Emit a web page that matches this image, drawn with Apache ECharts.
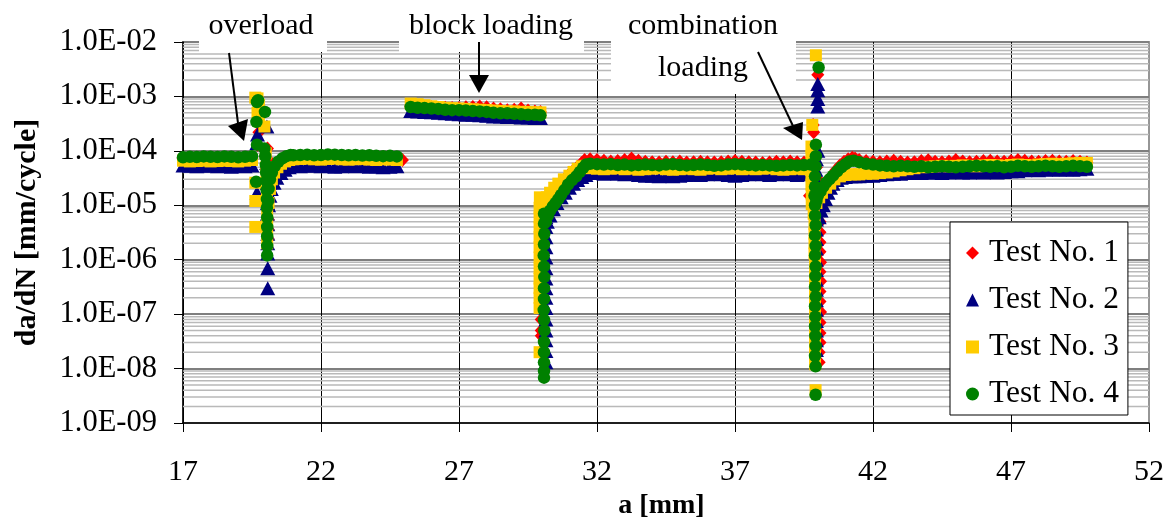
<!DOCTYPE html>
<html><head><meta charset="utf-8">
<script src="https://cdn.jsdelivr.net/npm/echarts@6/dist/echarts.min.js"></script>
<style>html,body{margin:0;padding:0;background:#fff}#chart{width:1168px;height:518px}</style>
</head><body><div id="chart"></div>
<script>
// ---------- shared crack-length grids (mm) for the steady sections ----------
const aPre   = [17.0,17.25,17.5,17.75,18.0,18.25,18.5,18.75,19.0,19.25,19.5];
const aPost  = [21.0,21.25,21.5,21.75,22.0,22.25,22.5,22.75,23.0,23.25,23.5,23.75,24.0,24.25,24.5,24.75];
const aBlock = [25.25,25.5,25.75,26.0,26.25,26.5,26.75,27.0,27.25,27.5,27.75,28.0,28.25,28.5,28.75,29.0,29.25,29.5,29.75,29.95];
const aMid   = [31.75,32.0,32.25,32.5,32.75,33.0,33.25,33.5,33.75,34.0,34.25,34.5,34.75,35.0,35.25,35.5,35.75,36.0,36.25,36.5,36.75,37.0,37.25,37.5,37.75,38.0,38.25,38.5,38.75,39.0,39.25,39.5,39.75];
const aEnd   = [41.5,41.75,42.0,42.25,42.5,42.75,43.0,43.25,43.5,43.75,44.0,44.25,44.5,44.75,45.0,45.25,45.5,45.75,46.0,46.25,46.5,46.75,47.0,47.25,47.5,47.75,48.0,48.25,48.5,48.75,49.0,49.25,49.5,49.75];

// ---------- Test No. 1 ----------
const test1Pre   = [7.3e-5,7.2e-5,7.4e-5,7.3e-5,7.1e-5,7.3e-5,7.4e-5,7.2e-5,7.3e-5,7.2e-5,7.5e-5];
const test1Post  = [7.6e-5,7.5e-5,7.7e-5,7.6e-5,7.4e-5,7.5e-5,7.6e-5,7.7e-5,7.5e-5,7.6e-5,7.4e-5,7.5e-5,7.6e-5,7.5e-5,7.3e-5,7.2e-5];
const test1Block = [6.6e-4,6.5e-4,6.4e-4,6.3e-4,6.2e-4,6.2e-4,6.1e-4,6.1e-4,6.3e-4,6.4e-4,6.5e-4,6.3e-4,6.0e-4,5.8e-4,5.6e-4,5.7e-4,6.0e-4,5.5e-4,5.3e-4,5.2e-4];
const test1Mid   = [7.0e-5,6.8e-5,6.6e-5,6.4e-5,6.5e-5,6.8e-5,7.2e-5,6.6e-5,6.3e-5,6.2e-5,6.1e-5,6.3e-5,6.2e-5,6.4e-5,6.1e-5,6.2e-5,6.3e-5,6.2e-5,6.1e-5,6.2e-5,6.4e-5,6.5e-5,6.3e-5,6.2e-5,6.1e-5,6.0e-5,6.1e-5,6.3e-5,6.2e-5,6.4e-5,6.2e-5,6.1e-5,6.2e-5];
const test1End   = [6.8e-5,6.5e-5,6.3e-5,6.2e-5,6.4e-5,6.6e-5,6.3e-5,6.1e-5,6.2e-5,6.5e-5,6.7e-5,6.3e-5,6.2e-5,6.4e-5,6.8e-5,6.4e-5,6.2e-5,6.3e-5,6.5e-5,6.6e-5,6.4e-5,6.3e-5,6.5e-5,6.8e-5,6.6e-5,6.4e-5,6.3e-5,6.5e-5,6.6e-5,6.4e-5,6.3e-5,6.5e-5,6.3e-5,6.1e-5];
const test1Overload = [[19.7,1.3e-4],[19.75,2.2e-4],[20.06,1.1e-4],[20.07,7e-5],[20.08,4.5e-5],[20.08,3e-5],[20.09,2e-5],[20.09,1.3e-5],[20.09,8.5e-6],[20.09,5.5e-6],[20.09,3.6e-6],[20.09,2.4e-6],[20.12,1.2e-5],[20.18,2e-5],[20.26,3e-5],[20.36,4e-5],[20.5,5.2e-5],[20.65,6.2e-5],[20.8,7e-5],[24.95,6.8e-5]];
const test1Drop = [[29.98,6e-6],[29.98,4e-6],[29.98,2.6e-6],[29.98,1.7e-6],[29.98,1.1e-6],[29.98,7e-7],[29.98,4.5e-7],[29.98,3e-7],[29.98,2e-7],[29.98,1.3e-7],[29.98,8e-8],[29.98,5e-8],[29.98,4e-8],[30.1,8e-6],[30.25,1.1e-5],[30.4,1.5e-5],[30.55,2e-5],[30.7,2.5e-5],[30.85,3.1e-5],[31.0,3.7e-5],[31.15,4.4e-5],[31.3,5.1e-5],[31.45,6e-5],[31.55,6.8e-5]];
const test1Combo = [[40.0,2.5e-3],[39.83,3e-4],[39.85,2.2e-4],[39.9,1.2e-4],[39.95,8e-5],[39.95,5e-5],[39.7,1.5e-5],[40.0,3e-5],[40.02,2e-5],[40.03,1.3e-5],[40.05,8e-6],[40.08,5e-6],[40.08,3.2e-6],[40.08,2.1e-6],[40.08,1.4e-6],[40.1,9e-7],[40.08,6e-7],[40.1,4e-7],[40.08,2.6e-7],[40.08,1.7e-7],[40.1,1.1e-7],[40.08,7e-8],[40.08,4.5e-8],[40.08,3e-8],[40.05,2e-8],[40.05,1.3e-8],[40.15,1.5e-5],[40.25,2e-5],[40.35,2.7e-5],[40.5,3.5e-5],[40.65,4.4e-5],[40.8,5.4e-5],[40.95,6.3e-5],[41.1,7e-5],[41.25,7.5e-5],[41.35,7.2e-5]];

// ---------- Test No. 2 ----------
const test2Pre   = [5.4e-5,5.3e-5,5.2e-5,5.3e-5,5.4e-5,5.2e-5,5.3e-5,5.1e-5,5.3e-5,5.2e-5,5.4e-5];
const test2Post  = [5.3e-5,5.2e-5,5.3e-5,5.4e-5,5.2e-5,5.3e-5,5.1e-5,5.2e-5,5.3e-5,5.2e-5,5.3e-5,5.1e-5,5.2e-5,5.0e-5,5.1e-5,5.2e-5];
const test2Block = [5.4e-4,5.3e-4,5.2e-4,5.1e-4,5.0e-4,4.9e-4,4.8e-4,4.7e-4,4.6e-4,4.6e-4,4.5e-4,4.4e-4,4.3e-4,4.3e-4,4.2e-4,4.2e-4,4.1e-4,4.1e-4,4.0e-4,4.0e-4];
const test2Mid   = [3.9e-5,3.9e-5,3.8e-5,3.9e-5,3.8e-5,3.7e-5,3.8e-5,3.6e-5,3.5e-5,3.5e-5,3.4e-5,3.5e-5,3.4e-5,3.5e-5,3.6e-5,3.7e-5,3.6e-5,3.7e-5,3.8e-5,3.7e-5,3.6e-5,3.5e-5,3.6e-5,3.7e-5,3.8e-5,3.7e-5,3.6e-5,3.7e-5,3.8e-5,3.7e-5,3.6e-5,3.7e-5,3.8e-5];
const test2End   = [3.4e-5,3.5e-5,3.5e-5,3.6e-5,3.7e-5,3.8e-5,3.8e-5,3.9e-5,4.0e-5,3.9e-5,4.0e-5,4.0e-5,3.9e-5,4.0e-5,4.1e-5,4.0e-5,4.0e-5,4.1e-5,4.0e-5,4.1e-5,4.0e-5,4.1e-5,4.2e-5,4.2e-5,4.4e-5,4.5e-5,4.4e-5,4.5e-5,4.6e-5,4.5e-5,4.6e-5,4.5e-5,4.6e-5,4.7e-5];
const test2Overload = [[19.68,1.4e-4],[19.7,2e-4],[20.04,2.8e-4],[19.68,1.7e-5],[20.03,6e-5],[20.05,4e-5],[20.05,2.6e-5],[20.06,1.7e-5],[20.06,1.1e-5],[20.06,7e-6],[20.07,4.5e-6],[20.07,3e-6],[20.07,2e-6],[20.07,1.3e-6],[20.07,7e-7],[20.07,3e-7],[20.1,1e-5],[20.15,1.5e-5],[20.2,2e-5],[20.3,2.6e-5],[20.4,3.2e-5],[20.55,3.9e-5],[20.7,4.5e-5],[20.85,5e-5]];
const test2Drop = [[30.15,6e-6],[30.15,4e-6],[30.15,2.6e-6],[30.15,1.7e-6],[30.15,1.1e-6],[30.15,7e-7],[30.15,4.5e-7],[30.15,3e-7],[30.15,2e-7],[30.15,1.3e-7],[30.15,8e-8],[30.15,5e-8],[30.15,3.3e-8],[30.15,2.1e-8],[30.15,1.3e-8],[30.2,5e-6],[30.3,6.5e-6],[30.42,8.5e-6],[30.55,1.1e-5],[30.7,1.4e-5],[30.85,1.7e-5],[31.0,2.1e-5],[31.15,2.5e-5],[31.3,2.9e-5],[31.45,3.3e-5],[31.6,3.6e-5]];
const test2Combo = [[40.0,1.7e-3],[40.0,1.3e-3],[40.0,9e-4],[40.0,6.5e-4],[40.0,1e-4],[39.95,7e-5],[39.93,4.5e-5],[39.93,3e-5],[39.93,2e-5],[39.93,1.3e-5],[39.95,8.5e-6],[39.95,5.5e-6],[39.95,3.6e-6],[39.95,2.4e-6],[39.95,1.6e-6],[39.95,1e-6],[39.95,6.5e-7],[39.95,4.3e-7],[39.95,2.8e-7],[39.95,1.8e-7],[39.95,1.2e-7],[39.95,7.5e-8],[39.95,5e-8],[39.95,3.3e-8],[39.95,2.2e-8],[40.05,6e-6],[40.12,8e-6],[40.2,1e-5],[40.28,1.3e-5],[40.37,1.7e-5],[40.46,2.1e-5],[40.55,2.5e-5],[40.7,2.9e-5],[40.85,3.2e-5],[41.0,3.3e-5],[41.2,3.4e-5],[41.35,3.4e-5]];

// ---------- Test No. 3 ----------
const test3Pre   = [6.6e-5,6.4e-5,6.5e-5,6.6e-5,6.4e-5,6.5e-5,6.6e-5,6.5e-5,6.4e-5,6.6e-5,6.8e-5];
const test3Post  = [7.0e-5,7.1e-5,7.2e-5,7.0e-5,6.9e-5,7.1e-5,7.2e-5,7.0e-5,6.9e-5,7.0e-5,7.1e-5,6.9e-5,6.8e-5,7.0e-5,6.9e-5,6.8e-5];
const test3Block = [7.4e-4,7.2e-4,6.9e-4,6.6e-4,6.4e-4,6.2e-4,6.1e-4,6.0e-4,5.9e-4,5.8e-4,5.7e-4,5.6e-4,5.5e-4,5.4e-4,5.3e-4,5.3e-4,5.2e-4,5.2e-4,5.1e-4,5.1e-4];
const test3Mid   = [4.8e-5,4.7e-5,4.6e-5,4.7e-5,4.8e-5,4.6e-5,4.7e-5,4.5e-5,4.6e-5,4.7e-5,4.8e-5,4.6e-5,4.5e-5,4.6e-5,4.7e-5,4.6e-5,4.5e-5,4.7e-5,4.8e-5,4.6e-5,4.7e-5,4.8e-5,4.6e-5,4.7e-5,4.6e-5,4.7e-5,4.8e-5,4.6e-5,4.5e-5,4.6e-5,4.7e-5,4.6e-5,4.5e-5];
const test3End   = [3.7e-5,3.8e-5,3.8e-5,3.9e-5,4.0e-5,4.2e-5,4.4e-5,4.6e-5,4.8e-5,5.0e-5,5.1e-5,5.2e-5,5.3e-5,5.2e-5,5.3e-5,5.4e-5,5.3e-5,5.2e-5,5.4e-5,5.5e-5,5.4e-5,5.3e-5,5.5e-5,5.6e-5,5.5e-5,5.4e-5,5.6e-5,5.7e-5,5.8e-5,5.7e-5,5.8e-5,5.9e-5,6.0e-5,6.0e-5];
const test3Overload = [[19.62,9.5e-4],[19.7,9.2e-4],[19.75,7e-4],[19.7,5e-4],[19.75,3.5e-4],[19.95,2.8e-4],[19.62,2.6e-5],[19.62,1.2e-5],[19.62,4e-6],[20.0,9e-5],[20.02,5e-5],[20.03,3e-5],[20.04,1.8e-5],[20.04,1.1e-5],[20.05,7e-6],[20.05,4.5e-6],[20.05,3e-6],[20.05,2e-6],[20.1,1.1e-5],[20.15,2e-5],[20.22,3e-5],[20.3,4e-5],[20.42,5e-5],[20.55,5.8e-5],[20.7,6.4e-5],[20.85,6.8e-5]];
const test3Drop = [[29.93,1.4e-5],[29.92,9e-6],[29.92,6e-6],[29.92,4e-6],[29.92,2.6e-6],[29.92,1.7e-6],[29.92,1.1e-6],[29.92,7e-7],[29.92,4.5e-7],[29.92,3e-7],[29.92,2e-7],[29.92,1.3e-7],[29.92,2e-8],[30.0,8e-6],[30.08,1.1e-5],[30.18,1.4e-5],[30.3,1.7e-5],[30.45,2.1e-5],[30.6,2.5e-5],[30.8,3e-5],[31.0,3.5e-5],[31.15,4.1e-5],[31.3,4.7e-5],[31.45,5.2e-5],[31.6,5.3e-5]];
const test3Combo = [[39.93,5.7e-3],[39.8,3e-4],[39.77,1.2e-4],[39.77,8e-5],[39.77,5.5e-5],[39.77,3.6e-5],[39.77,2.4e-5],[39.78,1.6e-5],[39.78,1.05e-5],[39.85,7e-6],[39.88,4.5e-6],[39.88,3e-6],[39.88,2e-6],[39.88,1.3e-6],[39.9,8.5e-7],[39.9,5.5e-7],[39.9,3.6e-7],[39.9,2.4e-7],[39.9,1.6e-7],[39.9,1e-7],[39.9,6.5e-8],[39.9,4.3e-8],[39.9,2.8e-8],[39.9,1.8e-8],[39.9,1.2e-8],[39.92,4e-9],[39.95,1.1e-5],[40.05,1.4e-5],[40.15,1.7e-5],[40.3,2.1e-5],[40.45,2.5e-5],[40.6,3e-5],[40.8,3.4e-5],[41.0,3.6e-5],[41.2,3.7e-5],[41.35,3.7e-5]];

// ---------- Test No. 4 ----------
const test4Pre   = [7.6e-5,7.8e-5,7.7e-5,7.9e-5,7.8e-5,7.7e-5,7.9e-5,7.8e-5,7.6e-5,7.8e-5,8.0e-5];
const test4Post  = [8.3e-5,8.4e-5,8.5e-5,8.3e-5,8.4e-5,8.6e-5,8.5e-5,8.4e-5,8.3e-5,8.4e-5,8.2e-5,8.3e-5,8.1e-5,8.0e-5,8.1e-5,7.9e-5];
const test4Block = [6.4e-4,6.2e-4,6.1e-4,6.0e-4,5.9e-4,5.7e-4,5.6e-4,5.6e-4,5.5e-4,5.4e-4,5.3e-4,5.2e-4,5.0e-4,4.9e-4,4.9e-4,4.8e-4,4.7e-4,4.6e-4,4.6e-4,4.5e-4];
const test4Mid   = [5.8e-5,5.7e-5,5.6e-5,5.7e-5,5.5e-5,5.6e-5,5.4e-5,5.5e-5,5.6e-5,5.5e-5,5.4e-5,5.6e-5,5.7e-5,5.5e-5,5.4e-5,5.5e-5,5.6e-5,5.5e-5,5.3e-5,5.4e-5,5.6e-5,5.7e-5,5.6e-5,5.5e-5,5.4e-5,5.5e-5,5.4e-5,5.3e-5,5.4e-5,5.5e-5,5.4e-5,5.5e-5,5.6e-5];
const test4End   = [6.2e-5,5.8e-5,5.6e-5,5.4e-5,5.3e-5,5.2e-5,5.3e-5,5.2e-5,5.1e-5,5.2e-5,5.0e-5,5.1e-5,5.2e-5,5.1e-5,5.0e-5,5.1e-5,5.2e-5,5.3e-5,5.2e-5,5.1e-5,5.2e-5,5.0e-5,5.1e-5,5.3e-5,5.2e-5,5.1e-5,5.2e-5,5.3e-5,5.2e-5,5.1e-5,5.2e-5,5.3e-5,5.2e-5,5.1e-5];
const test4Overload = [[19.65,2.7e-5],[19.68,1.3e-4],[19.66,3.4e-4],[19.68,7.9e-4],[19.72,8.5e-4],[19.97,5.2e-4],[19.95,1.1e-4],[19.98,8e-5],[20.0,5.5e-5],[20.01,4e-5],[20.02,2.8e-5],[20.03,1.9e-5],[20.04,1.3e-5],[20.04,9e-6],[20.05,6e-6],[20.05,4e-6],[20.05,2.7e-6],[20.05,1.8e-6],[20.05,1.2e-6],[20.08,1.2e-5],[20.1,2e-5],[20.15,3e-5],[20.22,4e-5],[20.32,5.2e-5],[20.45,6.3e-5],[20.6,7.3e-5],[20.75,8e-5],[20.9,8.4e-5]];
const test4Drop = [[30.08,7e-6],[30.08,4.6e-6],[30.09,3e-6],[30.08,1.9e-6],[30.07,1.2e-6],[30.08,7.5e-7],[30.09,4.8e-7],[30.08,3e-7],[30.08,1.9e-7],[30.07,1.2e-7],[30.08,7.8e-8],[30.09,5e-8],[30.08,3.1e-8],[30.08,2e-8],[30.08,1.3e-8],[30.08,9e-9],[30.08,6.8e-9],[30.15,5e-6],[30.22,6.5e-6],[30.3,8e-6],[30.4,9.5e-6],[30.5,1.1e-5],[30.6,1.3e-5],[30.7,1.55e-5],[30.82,1.9e-5],[30.95,2.4e-5],[31.1,2.9e-5],[31.25,3.4e-5],[31.38,4.1e-5],[31.5,4.9e-5],[31.6,5.6e-5]];
const test4Combo = [[40.03,3.4e-3],[39.93,1.3e-4],[39.93,8e-5],[39.92,5.2e-5],[39.9,3.4e-5],[39.9,2.2e-5],[39.88,1.5e-5],[39.9,1e-5],[39.9,6.5e-6],[39.92,4.3e-6],[39.9,2.8e-6],[39.92,1.8e-6],[39.9,1.2e-6],[39.92,7.5e-7],[39.91,5e-7],[39.9,3.2e-7],[39.92,2.1e-7],[39.9,1.4e-7],[39.91,9e-8],[39.9,6e-8],[39.91,4e-8],[39.92,2.6e-8],[39.9,1.7e-8],[39.92,1.1e-8],[39.92,3.3e-9],[39.95,1.2e-5],[40.0,1.5e-5],[40.1,1.8e-5],[40.2,2.2e-5],[40.3,2.6e-5],[40.42,3e-5],[40.55,3.5e-5],[40.7,4.2e-5],[40.85,5e-5],[41.0,5.7e-5],[41.15,6.4e-5],[41.3,6.6e-5]];

// ---------- axis settings ----------
const seriesNames = ['Test No. 1','Test No. 2','Test No. 3','Test No. 4'];
const xMin = 17, xMax = 52, xStep = 5;
const yMin = 1e-9, yMax = 1e-2;
const minorMultipliers = [2,3,4,5,6,7,8,9];
const minorDecades = [1e-9,1e-8,1e-7,1e-6,1e-5,1e-4,1e-3];

const FONT = 'Liberation Serif';

function pts(xs, ys){ return xs.map((x,i)=>[x, ys[i]]); }
function build(pre, post, block, mid, end, ov, drop, combo){
  return [].concat(pts(aPre,pre), ov, pts(aPost,post), pts(aBlock,block), drop, pts(aMid,mid), combo, pts(aEnd,end));
}
const minorData = [];
minorDecades.forEach(d => minorMultipliers.forEach(m => minorData.push([xMin, m*d])));

const chart = echarts.init(document.getElementById('chart'), null, {renderer:'canvas'});
const txt = {fontFamily: FONT, fontSize: 30, fill: '#000'};

chart.setOption({
  animation: false,
  backgroundColor: '#ffffff',
  grid: {left: 183, right: 19, top: 42, bottom: 95, containLabel: false, outerBoundsMode: 'none',
    show: true, borderColor: '#969696', borderWidth: 2, backgroundColor: 'transparent'},
  xAxis: {
    type: 'value', min: xMin, max: xMax, interval: xStep,
    name: 'a [mm]', nameLocation: 'middle', nameGap: 68,
    nameTextStyle: {fontFamily: FONT, fontSize: 28, fontWeight: 'bold', color: '#000', padding: [0, 9, 0, 0]},
    axisLine: {show: true, onZero: false, lineStyle: {color: '#000', width: 1.5}},
    axisTick: {show: true, length: 9, lineStyle: {color: '#000', width: 1}},
    axisLabel: {fontFamily: FONT, fontSize: 30, color: '#000', margin: 34},
    splitLine: {show: true, lineStyle: {color: ['#000','#000','#000','#000','#000','#000','#000','#969696'], width: 1}}
  },
  yAxis: {
    type: 'log', logBase: 10, min: yMin, max: yMax,
    name: 'da/dN [mm/cycle]', nameLocation: 'middle', nameGap: 141,
    nameTextStyle: {fontFamily: FONT, fontSize: 30, fontWeight: 'bold', color: '#000'},
    axisLine: {show: true, onZero: false, lineStyle: {color: '#000', width: 1.5}},
    axisTick: {show: true, length: 9, lineStyle: {color: '#000', width: 1}},
    axisLabel: {fontFamily: FONT, fontSize: 30.5, color: '#000', margin: 26,
      formatter: v => { const e = Math.round(Math.log10(v)); return '1.0E' + (e < 0 ? '-' : '+') + String(Math.abs(e)).padStart(2,'0'); }},
    splitLine: {show: true, lineStyle: {color: '#7f7f7f', width: 2}}
  },
  legend: {
    data: seriesNames, orient: 'vertical', left: 950, top: 222,
    itemWidth: 13, itemHeight: 13, itemGap: 15, padding: [15, 9, 5, 16],
    backgroundColor: '#fff', borderColor: '#000', borderWidth: 1,
    textStyle: {fontFamily: FONT, fontSize: 31.5, color: '#000', lineHeight: 30, padding: [0, 0, 0, 5]}
  },
  series: [
    {type: 'custom', name: 'minor grid', silent: true, z: 1, data: minorData,
      renderItem: (params, api) => {
        const y = api.coord([api.value(0), api.value(1)])[1];
        const cs = params.coordSys;
        return {type: 'line', shape: {x1: cs.x, y1: y, x2: cs.x + cs.width, y2: y}, style: {stroke: '#b9b9b9', lineWidth: 1.5}};
      }},
    {type: 'scatter', name: seriesNames[0], symbol: 'diamond', symbolSize: [13,14], itemStyle: {color: '#ff0000', opacity: 1},
      data: build(test1Pre,test1Post,test1Block,test1Mid,test1End,test1Overload,test1Drop,test1Combo)},
    {type: 'scatter', name: seriesNames[1], symbol: 'triangle', symbolSize: [15,14], itemStyle: {color: '#000080', opacity: 1},
      data: build(test2Pre,test2Post,test2Block,test2Mid,test2End,test2Overload,test2Drop,test2Combo)},
    {type: 'scatter', name: seriesNames[2], symbol: 'rect', symbolSize: 12, itemStyle: {color: '#ffcc00', opacity: 1},
      data: build(test3Pre,test3Post,test3Block,test3Mid,test3End,test3Overload,test3Drop,test3Combo)},
    {type: 'scatter', name: seriesNames[3], symbol: 'circle', symbolSize: 12.5, itemStyle: {color: '#008000', opacity: 1},
      data: build(test4Pre,test4Post,test4Block,test4Mid,test4End,test4Overload,test4Drop,test4Combo)}
  ],
  graphic: {elements: [
    {type: 'rect', z: 100, shape: {x: 199, y: 0, width: 128, height: 52}, style: {fill: '#fff'}},
    {type: 'rect', z: 100, shape: {x: 399, y: 0, width: 185, height: 52}, style: {fill: '#fff'}},
    {type: 'rect', z: 100, shape: {x: 611, y: 0, width: 185, height: 94}, style: {fill: '#fff'}},
    {type: 'text', z: 101, x: 261, y: 26, style: Object.assign({text: 'overload', align: 'center', verticalAlign: 'middle'}, txt)},
    {type: 'text', z: 101, x: 491, y: 26, style: Object.assign({text: 'block loading', align: 'center', verticalAlign: 'middle'}, txt)},
    {type: 'text', z: 101, x: 703, y: 26, style: Object.assign({text: 'combination', align: 'center', verticalAlign: 'middle'}, txt)},
    {type: 'text', z: 101, x: 703, y: 68, style: Object.assign({text: 'loading', align: 'center', verticalAlign: 'middle'}, txt)},
    {type: 'line', z: 102, shape: {x1: 229, y1: 53, x2: 238, y2: 123}, style: {stroke: '#000', lineWidth: 2}},
    {type: 'polygon', z: 102, shape: {points: [[228,126],[248,119],[244,141]]}, style: {fill: '#000'}},
    {type: 'line', z: 102, shape: {x1: 479, y1: 42, x2: 479, y2: 76}, style: {stroke: '#000', lineWidth: 2}},
    {type: 'polygon', z: 102, shape: {points: [[469,75],[489,75],[479,93]]}, style: {fill: '#000'}},
    {type: 'line', z: 102, shape: {x1: 758, y1: 52, x2: 793, y2: 126}, style: {stroke: '#000', lineWidth: 2}},
    {type: 'polygon', z: 102, shape: {points: [[783,128],[803,122],[802,140]]}, style: {fill: '#000'}}
  ]}
});
</script>
</body></html>
